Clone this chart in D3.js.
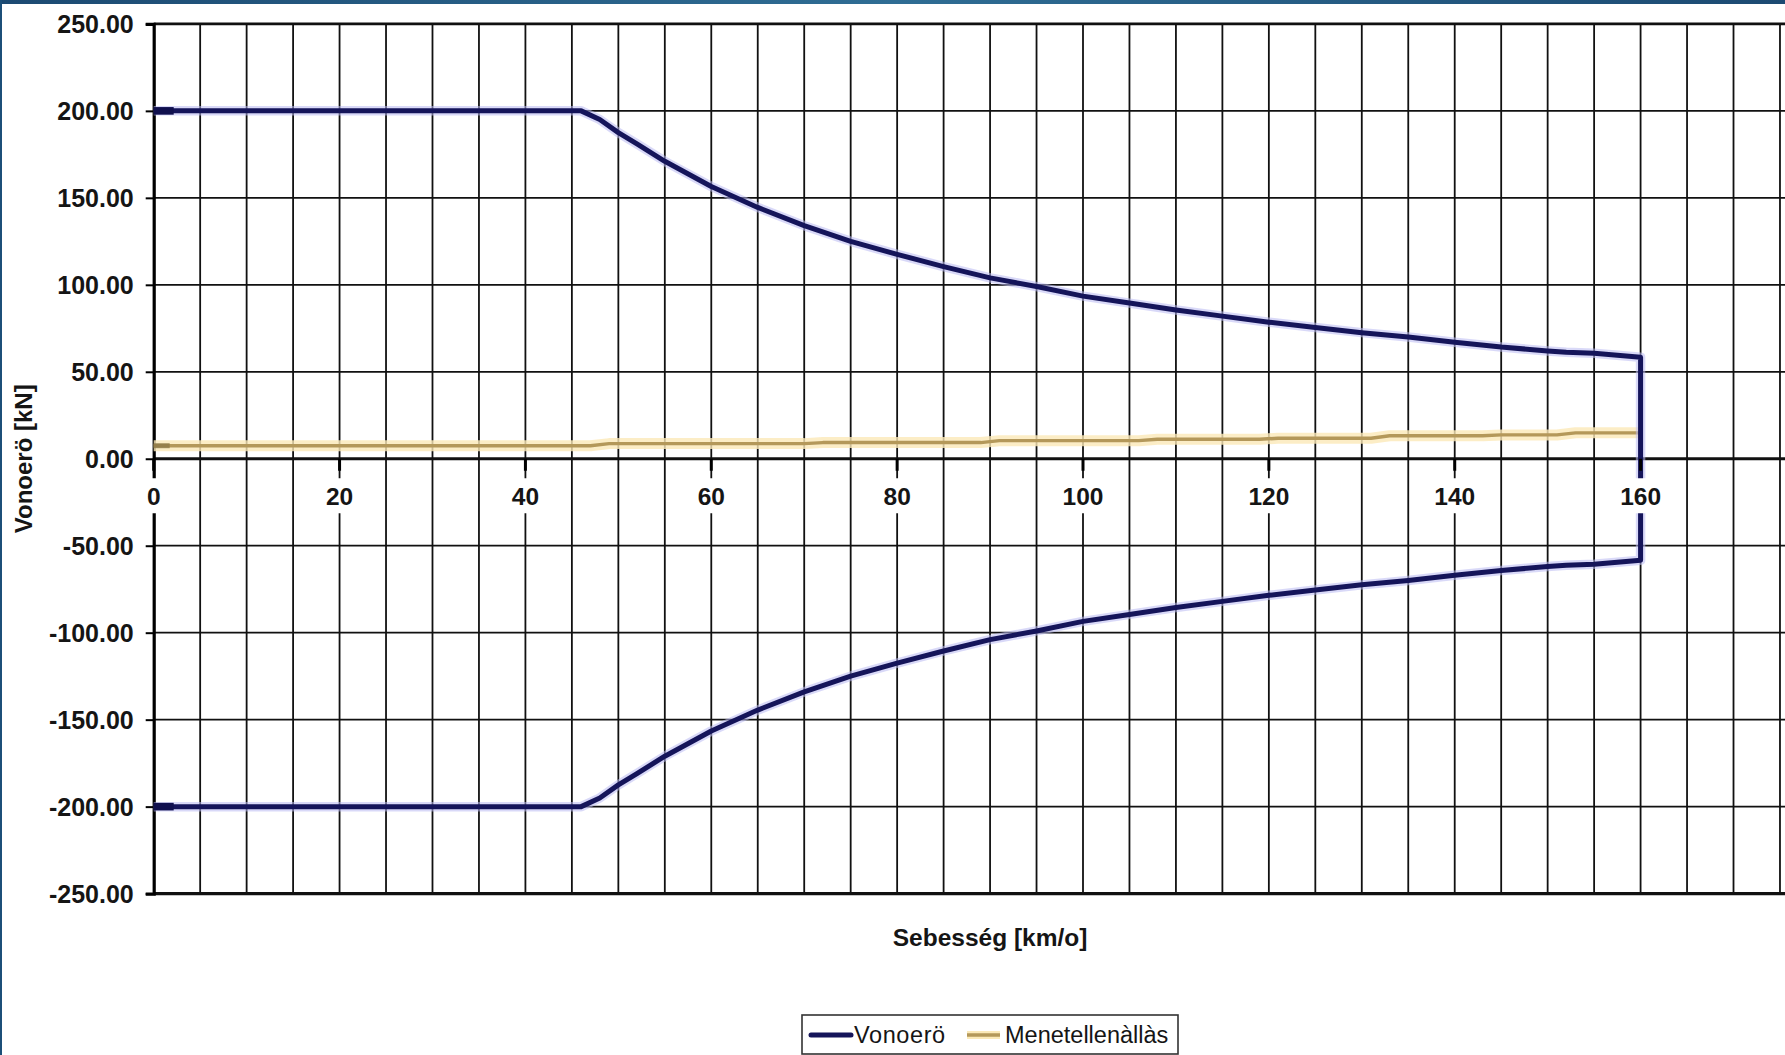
<!DOCTYPE html>
<html><head><meta charset="utf-8">
<script src="https://cdn.jsdelivr.net/npm/d3@7"></script>
<style>html,body{margin:0;padding:0;background:#fff;} svg{display:block}</style>
</head><body>
<script>
// ---- data ----
const vonoeroSpeed = [0,46,48,50,52,55,60,65,70,75,80,85,90,95,100,105,110,115,120,125,130,135,140,145,150,152,155,160,
  160,155,152,150,145,140,135,130,125,120,115,110,105,100,95,90,85,80,75,70,65,60,55,52,50,48,46,0];
const vonoeroForce = [200,200,195,187.5,181,171,156.5,144.5,134,125,117.5,110.5,104,99,93.5,89.5,85.5,82,78.5,75.5,72.5,70,67,64.2,62,61.2,60.6,58.4,
  -58.4,-60.6,-61.2,-62,-64.2,-67,-70,-72.5,-75.5,-78.5,-82,-85.5,-89.5,-93.5,-99,-104,-110.5,-117.5,-125,-134,-144.5,-156.5,-171,-181,-187.5,-195,-200,-200];
const menetSpeed = [0,47,49,70,72,89,91,106,108,119,121,131,133,143,145,151,153,160];
const menetForce = [7.5,7.5,8.7,8.7,9.3,9.3,10.4,10.4,11.2,11.2,11.8,11.8,13.2,13.2,13.7,13.7,14.9,14.9];
const yTickValues = [-250,-200,-150,-100,-50,0,50,100,150,200,250];
const xTickLabels = [0,20,40,60,80,100,120,140,160];
const seriesNames = ["Vonoerö","Menetellenàllàs"];
const xTitle = "Sebesség [km/o]";
const yTitle = "Vonoerö [kN]";

const W = 1785, H = 1055;
const FONT = "'Liberation Sans', Arial, Helvetica, sans-serif";
const svg = d3.select("body").append("svg").attr("width", W).attr("height", H);

const defs = svg.append("defs");
const g1 = defs.append("linearGradient").attr("id","topbar").attr("x1","0").attr("x2","1");
g1.append("stop").attr("offset","0").attr("stop-color","#1c4a72");
g1.append("stop").attr("offset","0.5").attr("stop-color","#2f6d94");
g1.append("stop").attr("offset","1").attr("stop-color","#1c4a72");
svg.append("rect").attr("x",0).attr("y",0).attr("width",W).attr("height",H).attr("fill","#fff");

const x = d3.scaleLinear().domain([0,180]).range([153.7, 153.7 + 180*9.293]);
const y = d3.scaleLinear().domain([-250,250]).range([893.6, 23.9]);

// grid
const grid = svg.append("g");
grid.selectAll("line.v").data(d3.range(5,181,5)).join("line")
  .attr("x1", d=>x(d)).attr("x2", d=>x(d)).attr("y1", y(250)).attr("y2", y(-250))
  .attr("stroke","#111").attr("stroke-width",1.8);
grid.selectAll("line.h").data(yTickValues).join("line")
  .attr("x1", x(0)).attr("x2", W).attr("y1", d=>y(d)).attr("y2", d=>y(d))
  .attr("stroke","#111").attr("stroke-width", d => (d===0||d===-250) ? 3.2 : (d===250 ? 2.8 : 1.8));

// y axis
const yAxis = d3.axisLeft(y).tickValues(yTickValues).tickFormat(d=>d.toFixed(2)).tickSize(8).tickPadding(12);
const ya = svg.append("g").attr("transform",`translate(${x(0)},0)`).call(yAxis);
ya.select(".domain").attr("stroke","#000").attr("stroke-width",3.2);
ya.selectAll(".tick line").attr("stroke","#000").attr("stroke-width",2);
ya.selectAll(".tick text").attr("font-family",FONT).attr("font-weight","bold").attr("font-size","25px")
  .attr("fill","#151515").attr("dy","0.36em");

// series
const line = d3.line().x(d=>x(d[0])).y(d=>y(d[1]));
const menetPts = menetSpeed.map((s,i)=>[s, menetForce[i]]);
const vonPts = vonoeroSpeed.map((s,i)=>[s, vonoeroForce[i]]);

svg.append("path").attr("d", line(menetPts)).attr("fill","none")
  .attr("stroke","#fbe9b8").attr("stroke-width",11).attr("stroke-opacity",0.8).attr("stroke-linejoin","round");
svg.append("path").attr("d", line(menetPts)).attr("fill","none")
  .attr("stroke","#b4985a").attr("stroke-width",3.4).attr("stroke-linejoin","round");

svg.append("path").attr("d", line(vonPts)).attr("fill","none")
  .attr("stroke","#b9b9f2").attr("stroke-width",9.5).attr("stroke-opacity",0.55).attr("stroke-linejoin","round");
svg.append("path").attr("d", line(vonPts)).attr("fill","none")
  .attr("stroke","#15155a").attr("stroke-width",5).attr("stroke-linejoin","round");

// start stubs
svg.selectAll("rect.stub").data([vonPts[0], vonPts[vonPts.length-1]]).join("rect")
  .attr("x", d=>x(d[0])).attr("y", d=>y(d[1])-3.8).attr("width", 20).attr("height", 7.6).attr("fill","#10104e");
svg.append("rect").attr("x", x(menetPts[0][0])).attr("y", y(menetPts[0][1])-2.5).attr("width",16).attr("height",5).attr("fill","#8f7a48").attr("opacity",0.8);

// x tick labels (on zero line, white boxes)
const xl = svg.append("g");
xl.selectAll("line").data(xTickLabels).join("line")
  .attr("x1", d=>x(d)).attr("x2", d=>x(d)).attr("y1", y(0)).attr("y2", y(0)+12)
  .attr("stroke","#000").attr("stroke-width",3);
const lbl = xl.selectAll("g.lbl").data(xTickLabels).join("g").attr("transform", d=>`translate(${x(d)},${y(0)+37})`);
lbl.append("text").text(d=>d).attr("text-anchor","middle").attr("dy","0.36em")
  .attr("font-family",FONT).attr("font-weight","bold").attr("font-size","24.5px").attr("fill","#151515");
lbl.each(function(){
  const t = d3.select(this).select("text").node().getBBox();
  d3.select(this).insert("rect","text").attr("x", t.x-4).attr("y", -17.5).attr("width", t.width+8).attr("height", 35).attr("fill","#fff");
});

// axis titles
svg.append("text").attr("x", (x(0)+x(180))/2).attr("y", 937).attr("dy","0.36em").attr("text-anchor","middle")
  .attr("font-family",FONT).attr("font-weight","bold").attr("font-size","24.5px").attr("fill","#151515").text(xTitle);
svg.append("text").attr("transform", `translate(23,${(y(250)+y(-250))/2}) rotate(-90)`).attr("dy","0.36em").attr("text-anchor","middle")
  .attr("font-family",FONT).attr("font-weight","bold").attr("font-size","24px").attr("fill","#151515").text(yTitle);

// legend
const lg = svg.append("g");
lg.append("rect").attr("x",802).attr("y",1015).attr("width",376).attr("height",39).attr("fill","#fff")
  .attr("stroke","#333").attr("stroke-width",1.6);
lg.append("line").attr("x1",811).attr("x2",851).attr("y1",1035).attr("y2",1035)
  .attr("stroke","#15155a").attr("stroke-width",5).attr("stroke-linecap","round");
lg.append("text").attr("x",854).attr("y",1035).attr("dy","0.36em").attr("font-family",FONT).attr("font-size","23.5px")
  .attr("letter-spacing","0.6px").attr("fill","#151515").text(seriesNames[0]);
lg.append("line").attr("x1",967).attr("x2",1000).attr("y1",1035).attr("y2",1035)
  .attr("stroke","#fbe9b8").attr("stroke-width",8);
lg.append("line").attr("x1",967).attr("x2",1000).attr("y1",1035).attr("y2",1035)
  .attr("stroke","#b4985a").attr("stroke-width",3.4);
lg.append("text").attr("x",1005).attr("y",1035).attr("dy","0.36em").attr("font-family",FONT).attr("font-size","23.5px").attr("fill","#151515").text(seriesNames[1]);

// window frame strips
svg.append("rect").attr("x",0).attr("y",0).attr("width",W).attr("height",4).attr("fill","url(#topbar)");
svg.append("rect").attr("x",0).attr("y",0).attr("width",2).attr("height",H).attr("fill","#1c4f78");
</script>
</body></html>
